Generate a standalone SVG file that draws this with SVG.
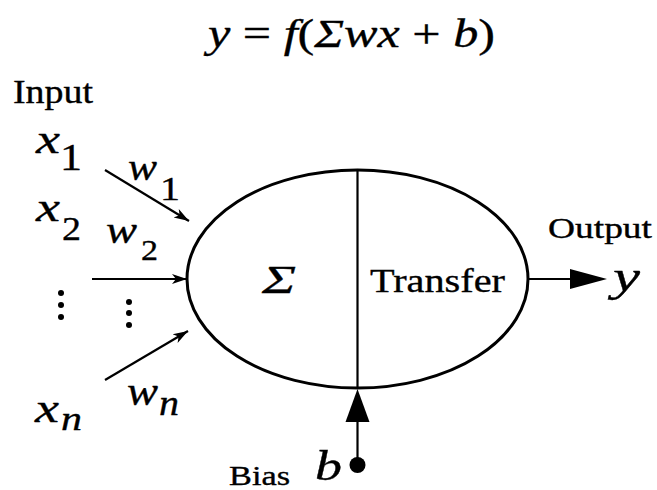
<svg xmlns="http://www.w3.org/2000/svg" width="657" height="490" viewBox="0 0 657 490">
  <style>
    .t { font-family: "Liberation Serif", "Times New Roman", serif; fill: #000; stroke: #000; stroke-width: 0.35; }
    .i { font-style: italic; }
    .ln { stroke: #000; stroke-width: 2.2; fill: none; }
    .dot { fill: #000; }
  </style>
  <defs>
    <marker id="ah" markerUnits="userSpaceOnUse" markerWidth="16" markerHeight="12" refX="15" refY="6" orient="auto">
      <path d="M0,1 L15,6 L0,11 L4,6 z" fill="#000"/>
    </marker>
  </defs>
  <rect width="657" height="490" fill="#fff"/>

  <g id="formula">
    <text class="t" x="208" y="47" font-size="40" textLength="287" lengthAdjust="spacingAndGlyphs"><tspan class="i">y</tspan> = <tspan class="i">f</tspan>(<tspan class="i">Σwx</tspan> + <tspan class="i">b</tspan>)</text>
  </g>

  <g id="input-label">
    <text class="t" x="13" y="103" font-size="33" textLength="80" lengthAdjust="spacingAndGlyphs">Input</text>
  </g>

  <g id="input-x1">
    <text class="t i" x="36" y="153" font-size="40" textLength="24" lengthAdjust="spacingAndGlyphs">x</text>
    <text class="t" x="60" y="170" font-size="38" textLength="22" lengthAdjust="spacingAndGlyphs">1</text>
  </g>
  <g id="weight-w1">
    <text class="t i" x="128" y="180" font-size="38" textLength="29" lengthAdjust="spacingAndGlyphs">w</text>
    <text class="t" x="160" y="200" font-size="34" textLength="20" lengthAdjust="spacingAndGlyphs">1</text>
  </g>
  <g id="input-x2">
    <text class="t i" x="36" y="221" font-size="40" textLength="24" lengthAdjust="spacingAndGlyphs">x</text>
    <text class="t" x="62" y="240" font-size="34" textLength="19" lengthAdjust="spacingAndGlyphs">2</text>
  </g>
  <g id="weight-w2">
    <text class="t i" x="106" y="243" font-size="38" textLength="31" lengthAdjust="spacingAndGlyphs">w</text>
    <text class="t" x="141" y="260" font-size="30" textLength="17" lengthAdjust="spacingAndGlyphs">2</text>
  </g>
  <g id="ellipsis-inputs">
    <circle class="dot" cx="61" cy="293" r="3"/>
    <circle class="dot" cx="61" cy="305" r="3"/>
    <circle class="dot" cx="61" cy="317" r="3"/>
  </g>
  <g id="ellipsis-weights">
    <circle class="dot" cx="129" cy="302" r="3"/>
    <circle class="dot" cx="129" cy="313" r="3"/>
    <circle class="dot" cx="129" cy="325" r="3"/>
  </g>
  <g id="input-xn">
    <text class="t i" x="35" y="422" font-size="40" textLength="24" lengthAdjust="spacingAndGlyphs">x</text>
    <text class="t i" x="61" y="430" font-size="33" textLength="21" lengthAdjust="spacingAndGlyphs">n</text>
  </g>
  <g id="weight-wn">
    <text class="t i" x="127" y="405" font-size="40" textLength="31" lengthAdjust="spacingAndGlyphs">w</text>
    <text class="t i" x="159" y="415" font-size="36" textLength="20" lengthAdjust="spacingAndGlyphs">n</text>
  </g>

  <g id="neuron">
    <ellipse cx="357.5" cy="279" rx="170.5" ry="109" fill="none" stroke="#000" stroke-width="3"/>
    <line x1="357.5" y1="170" x2="357.5" y2="388" stroke="#000" stroke-width="2.2"/>
    <text class="t i" x="262" y="293" font-size="40" textLength="34" lengthAdjust="spacingAndGlyphs">Σ</text>
    <text class="t" x="370" y="292" font-size="34" textLength="135" lengthAdjust="spacingAndGlyphs">Transfer</text>
  </g>

  <g id="output">
    <text class="t" x="548" y="238" font-size="29" textLength="104" lengthAdjust="spacingAndGlyphs">Output</text>
    <text class="t i" x="613" y="291" font-size="44" textLength="27" lengthAdjust="spacingAndGlyphs">y</text>
  </g>

  <g id="bias">
    <circle class="dot" cx="357.5" cy="465" r="8"/>
    <text class="t" x="229" y="485" font-size="28" textLength="61" lengthAdjust="spacingAndGlyphs">Bias</text>
    <text class="t i" x="315" y="480" font-size="43" textLength="27" lengthAdjust="spacingAndGlyphs">b</text>
  </g>

  <g id="connectors">
    <line class="ln" x1="105" y1="170" x2="189" y2="221" marker-end="url(#ah)"/>
    <line class="ln" x1="92" y1="279" x2="187" y2="279" marker-end="url(#ah)"/>
    <line class="ln" x1="105" y1="380" x2="188" y2="331" marker-end="url(#ah)"/>
    <line class="ln" x1="528" y1="279" x2="575" y2="279"/>
    <polygon points="570,269 607,279 570,289" fill="#000"/>
    <line class="ln" x1="357.5" y1="465" x2="357.5" y2="418"/>
    <polygon points="345.5,422 357.5,389 369.5,422" fill="#000"/>
  </g>
</svg>
